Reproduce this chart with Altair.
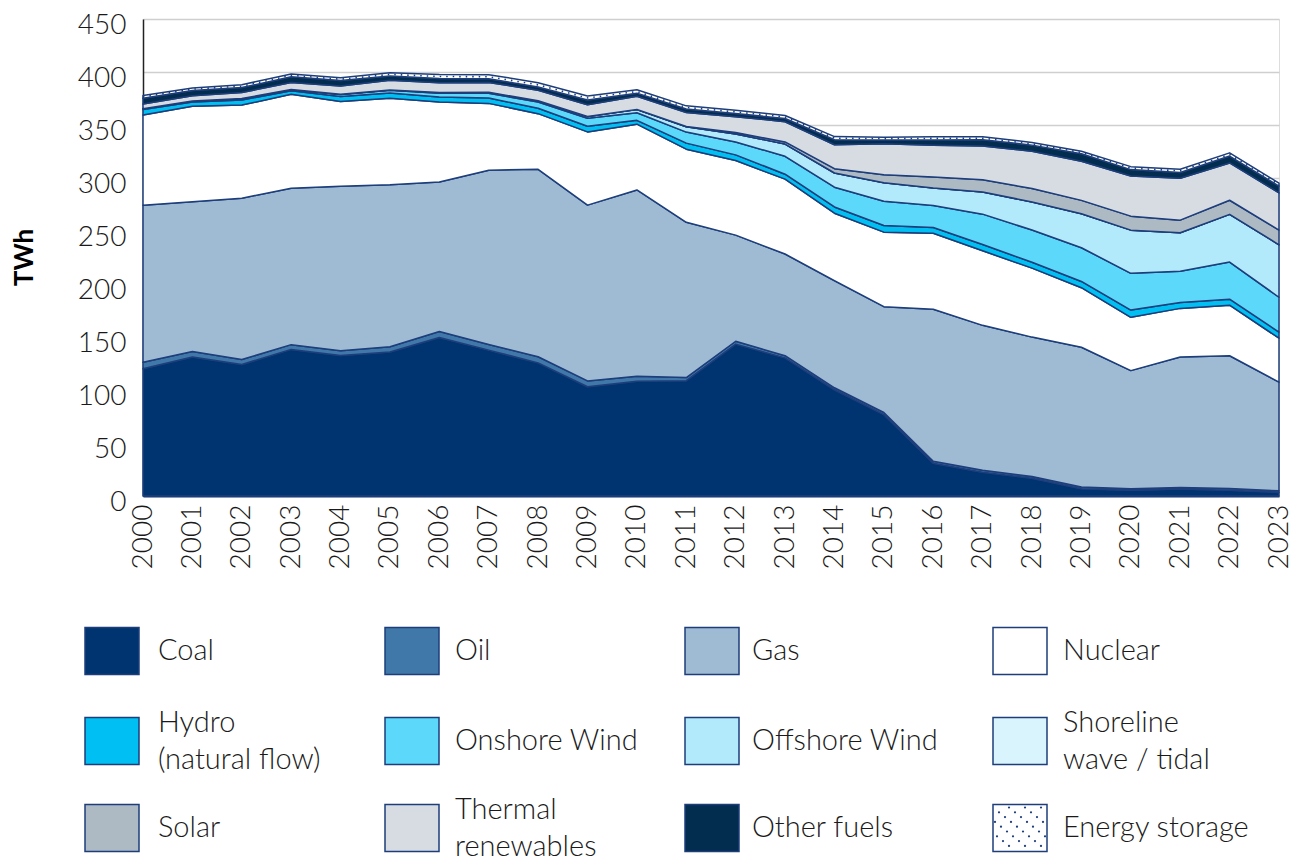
import altair as alt
import pandas as pd

# ---------------- data (TWh) ----------------
years = list(range(2000, 2024))

coal = [120.0, 131.1, 124.1, 138.3, 132.6, 135.8, 149.6, 137.6, 125.6, 103.1, 108.2, 108.8,
        143.3, 130.3, 100.2, 76.7, 31.0, 22.5, 16.8, 6.9, 5.5, 6.5, 5.5, 3.4]
oil = [6.2, 5.2, 4.6, 4.5, 4.4, 5.0, 5.6, 5.3, 5.8, 5.5, 4.8, 2.9,
       2.7, 2.1, 1.9, 2.1, 1.8, 1.8, 1.6, 1.5, 1.4, 1.6, 1.6, 1.5]
gas = [148.1, 141.2, 152.3, 147.5, 155.2, 152.9, 141.1, 164.5, 176.8, 165.8, 175.7, 146.5,
       100.1, 95.9, 101.0, 99.8, 143.4, 136.7, 131.5, 131.9, 111.4, 123.0, 125.2, 102.5]
nuclear = [85.1, 90.1, 87.8, 88.7, 80.0, 81.6, 75.5, 63.0, 52.5, 69.1, 62.1, 69.0,
           70.4, 70.6, 63.7, 70.3, 71.7, 70.3, 65.1, 56.2, 50.3, 45.9, 47.7, 41.5]
hydro = [5.1, 4.1, 4.8, 3.2, 4.8, 4.9, 4.6, 5.1, 5.1, 5.3, 3.6, 5.7,
         5.3, 4.7, 5.9, 6.3, 5.4, 5.9, 5.5, 5.9, 6.8, 5.5, 5.7, 5.8]
onshore = [0.9, 1.0, 1.3, 1.3, 1.7, 2.5, 3.6, 4.5, 5.8, 7.6, 7.2, 10.4,
           12.2, 16.9, 18.6, 22.9, 20.8, 28.7, 30.4, 31.8, 34.7, 29.6, 35.0, 32.8]
offshore = [0.0, 0.0, 0.0, 0.0, 0.2, 0.4, 0.7, 0.8, 1.3, 1.7, 3.1, 5.1,
            7.6, 11.5, 13.4, 17.4, 16.4, 20.9, 26.5, 32.0, 40.7, 36.3, 45.0, 49.5]
shoreline = [0.0, 0.0, 0.0, 0.0, 0.0, 0.0, 0.0, 0.0, 0.0, 0.0, 0.0, 0.01,
             0.01, 0.01, 0.01, 0.01, 0.01, 0.01, 0.01, 0.01, 0.01, 0.01, 0.01, 0.01]
solar = [0.0, 0.0, 0.0, 0.0, 0.0, 0.0, 0.0, 0.0, 0.02, 0.02, 0.04, 0.24,
         1.35, 2.0, 4.05, 7.5, 10.4, 11.5, 12.7, 12.7, 13.2, 11.8, 13.3, 13.9]
thermal = [4.4, 5.0, 5.7, 6.6, 7.9, 9.2, 9.1, 9.3, 9.9, 10.9, 12.3, 13.2,
           14.9, 19.1, 22.6, 29.3, 30.0, 31.9, 35.1, 36.9, 37.9, 39.5, 35.2, 35.0]
other_fuels = [5.4, 4.9, 4.7, 5.4, 5.1, 4.0, 4.1, 3.5, 3.0, 4.6, 3.0, 3.3,
               3.0, 3.0, 4.8, 3.5, 5.0, 5.9, 5.8, 7.0, 6.0, 5.5, 6.5, 6.5]
storage = [2.7, 2.4, 2.7, 2.7, 2.6, 2.9, 3.7, 3.9, 4.1, 3.7, 3.2, 2.9,
           3.0, 2.9, 2.9, 2.7, 2.9, 2.9, 2.5, 2.4, 2.8, 3.1, 3.0, 2.7]

series_names = ["Coal", "Oil", "Gas", "Nuclear", "Hydro (natural flow)", "Onshore Wind",
                "Offshore Wind", "Shoreline wave / tidal", "Solar", "Thermal renewables",
                "Other fuels", "Energy storage"]
legend_labels = ["Coal", "Oil", "Gas", "Nuclear", "Hydro\n(natural flow)", "Onshore Wind",
                 "Offshore Wind", "Shoreline\nwave / tidal", "Solar", "Thermal\nrenewables",
                 "Other fuels", "Energy storage"]
colors = ["#003471", "#3f78a9", "#9fbbd4", "#ffffff", "#00bff2", "#5bd8fa",
          "#b2eafb", "#daf4fd", "#adb9c3", "#d7dce3", "#032d4e", "#ffffff"]
series_values = [coal, oil, gas, nuclear, hydro, onshore, offshore, shoreline,
                 solar, thermal, other_fuels, storage]

# ---------------- tables ----------------
rows = []
for i, (name, vals) in enumerate(zip(series_names, series_values)):
    for yr, v in zip(years, vals):
        rows.append({"year": yr, "source": name, "twh": v, "order": i})
df = pd.DataFrame(rows)

below_storage = [sum(s[k] for s in series_values[:-1]) for k in range(len(years))]
mid_df = pd.DataFrame({"year": years,
                       "mid": [b + s / 2 for b, s in zip(below_storage, storage)]})

# ---------------- styling ----------------
FONT = "Lato"
TEXT = "#1a1a1a"
EDGE = "#1d3e7b"
PLOT_W, PLOT_H = 1136, 477
LINE_H = 37

x_scale = alt.Scale(domain=[2000, 2023], nice=False, zero=False)
y_scale = alt.Scale(domain=[0, 450], nice=False)
color_scale = alt.Scale(domain=series_names, range=colors)

x_axis = alt.Axis(values=years, format="d", labelAngle=270, labelFont=FONT, labelFontSize=28,
                  labelFontWeight=300, labelColor=TEXT, labelPadding=8, ticks=False, grid=False,
                  domainColor=EDGE, domainWidth=2, title=None, labelOverlap=False)
y_axis = alt.Axis(values=list(range(0, 451, 50)), title="TWh", titleFont=FONT, titleFontSize=26,
                  titleFontWeight="bold", titleColor="#000", titleAngle=270, titleAlign="center",
                  titleBaseline="middle", titleX=-119, titleY=238,
                  labelFont=FONT, labelFontSize=28, labelFontWeight=300, labelColor=TEXT,
                  labelPadding=17, labelOffset=6, ticks=False, grid=True, gridColor="#cfcfcf",
                  gridWidth=1.5, domainColor="#222", domainWidth=1.5, labelOverlap=False)

areas = alt.Chart(df).mark_area(stroke=EDGE, strokeWidth=1.5, strokeJoin="round").encode(
    x=alt.X("year:Q", scale=x_scale, axis=x_axis),
    y=alt.Y("twh:Q", stack="zero", scale=y_scale, axis=y_axis),
    color=alt.Color("source:N", scale=color_scale, legend=None),
    order=alt.Order("order:Q", sort="ascending"),
)

storage_dots = alt.Chart(mid_df).mark_line(color=EDGE, strokeWidth=1.6, strokeDash=[1.5, 5]).encode(
    x=alt.X("year:Q", scale=x_scale, axis=x_axis),
    y=alt.Y("mid:Q", scale=y_scale, axis=y_axis),
)

main = alt.layer(areas, storage_dots)

# ---------------- custom legend (layout relative to plot origin) ----------------
col_swatch_left = [-58, 242, 542, 850]
col_text_left = [15, 312, 609, 920]
row_center = [632, 722, 809]
SW_W, SW_H = 54, 47

leg_rows = []
for i, (name, lab) in enumerate(zip(series_names, legend_labels)):
    c, r = i % 4, i // 4
    n_lines = lab.count("\n") + 1
    leg_rows.append({"source": name, "label": lab,
                     "x": col_swatch_left[c], "x2": col_swatch_left[c] + SW_W,
                     "y": row_center[r] - SW_H / 2, "y2": row_center[r] + SW_H / 2,
                     "tx": col_text_left[c],
                     "ty": row_center[r] - (n_lines - 1) * LINE_H / 2})
leg_df = pd.DataFrame(leg_rows)

lx = alt.Scale(domain=[0, PLOT_W], nice=False, zero=False)
ly = alt.Scale(domain=[0, PLOT_H], nice=False, zero=False, reverse=True)

leg_rect = alt.Chart(leg_df).mark_rect(stroke=EDGE, strokeWidth=1.5).encode(
    x=alt.X("x:Q", scale=lx, axis=None), x2="x2:Q",
    y=alt.Y("y:Q", scale=ly, axis=None), y2="y2:Q",
    color=alt.Color("source:N", scale=color_scale, legend=None),
)

# dotted hatch for the energy-storage swatch
st = leg_rows[-1]
dot_rows = []
for c0 in range(-48, 60, 16):
    for t in range(0, 60, 6):
        dx, dy = c0 + t, 3 + t * 0.8
        if 2 <= dx <= SW_W - 2 and 2 <= dy <= SW_H - 2:
            dot_rows.append({"dx": st["x"] + dx, "dy": st["y"] + dy})
dot_df = pd.DataFrame(dot_rows)
leg_dots = alt.Chart(dot_df).mark_circle(size=5, color=EDGE, opacity=1).encode(
    x=alt.X("dx:Q", scale=lx, axis=None),
    y=alt.Y("dy:Q", scale=ly, axis=None),
)

leg_text = alt.Chart(leg_df).mark_text(align="left", baseline="middle", font=FONT, fontSize=29,
                                       fontWeight=300, color=TEXT, lineBreak="\n",
                                       lineHeight=LINE_H).encode(
    x=alt.X("tx:Q", scale=lx, axis=None),
    y=alt.Y("ty:Q", scale=ly, axis=None),
    text="label:N",
)

legend = alt.layer(leg_rect, leg_dots, leg_text)

chart = alt.layer(main, legend).resolve_scale(x="independent", y="independent").properties(
    width=PLOT_W, height=PLOT_H,
    autosize=alt.AutoSizeParams(type="none"),
    padding={"left": 135, "top": 11, "right": 14, "bottom": 365},
).configure_view(stroke=None).configure(background="white")

chart.save("out.html", embed_options={"renderer": "svg", "actions": False})
